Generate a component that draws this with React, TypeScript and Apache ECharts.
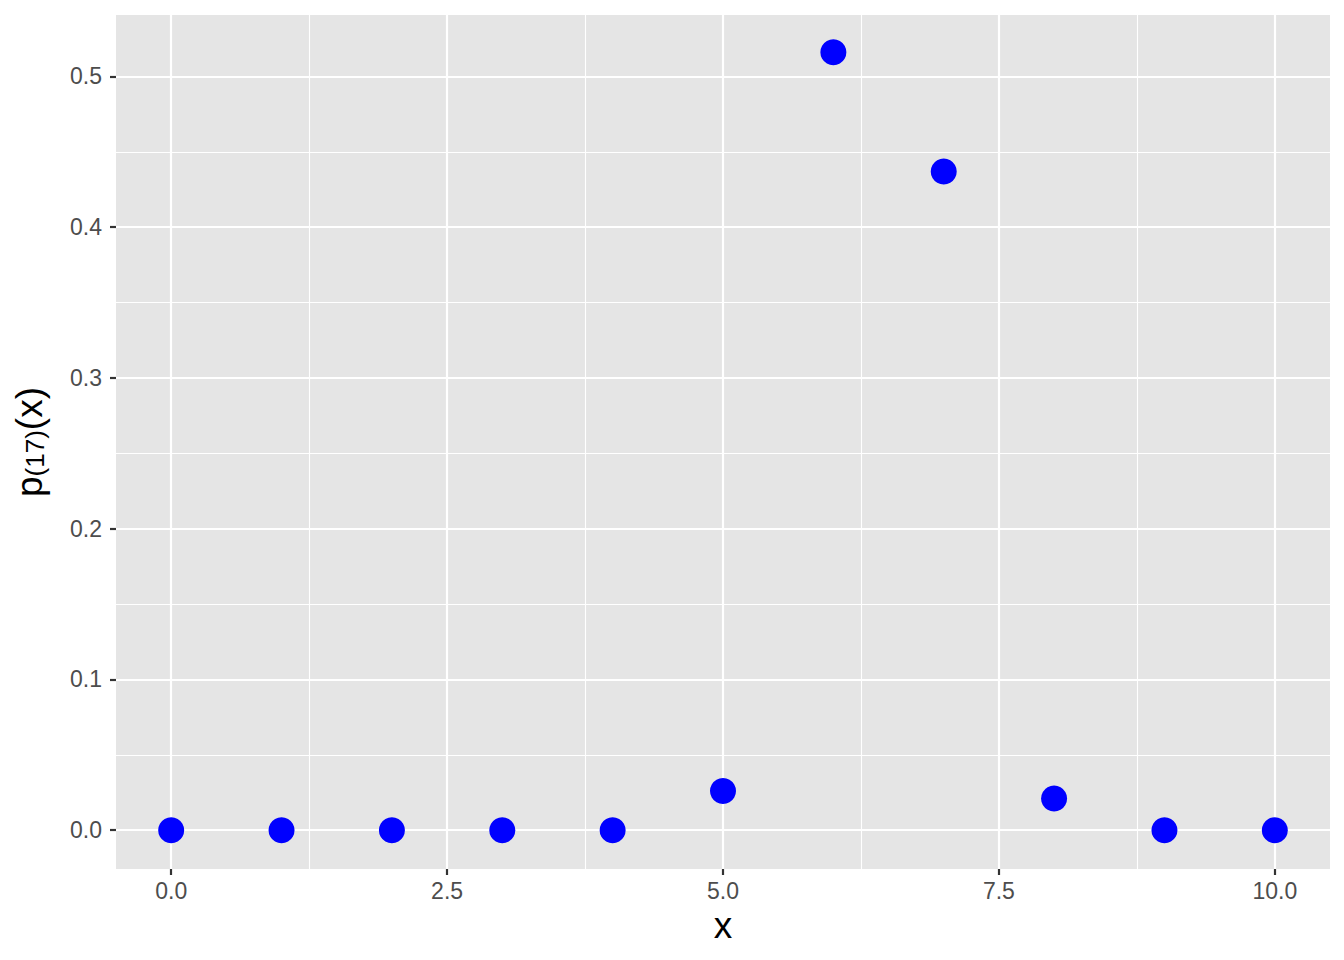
import { useEffect, useRef } from "react";
import * as echarts from "echarts";

const xs = [0, 1, 2, 3, 4, 5, 6, 7, 8, 9, 10];
const probs = [0, 0, 0, 0, 0, 0.026, 0.516, 0.437, 0.021, 0, 0];
const xBreaks = [0, 2.5, 5, 7.5, 10];
const xMinor = [1.25, 3.75, 6.25, 8.75];
const yBreaks = [0, 0.1, 0.2, 0.3, 0.4, 0.5];
const yMinor = [0.05, 0.15, 0.25, 0.35, 0.45];

const FONT = "Liberation Sans, Arial, Helvetica, sans-serif";

export default function App() {
  const elRef = useRef<HTMLDivElement>(null);

  useEffect(() => {
    if (!elRef.current) return;
    const chart = echarts.init(elRef.current, undefined, { renderer: "svg" });

    const major = { color: "#FFFFFF", width: 2.2, type: "solid" as const };
    const minor = { color: "#FFFFFF", width: 1.1, type: "solid" as const };
    const gridLines = [
      ...xMinor.map((v) => ({ xAxis: v, lineStyle: minor })),
      ...yMinor.map((v) => ({ yAxis: v, lineStyle: minor })),
      ...xBreaks.map((v) => ({ xAxis: v, lineStyle: major })),
      ...yBreaks.map((v) => ({ yAxis: v, lineStyle: major })),
    ];
    const tick = { show: true, inside: false, length: 6, lineStyle: { color: "#333333", width: 2.2 } };

    chart.setOption({
      animation: false,
      backgroundColor: "#FFFFFF",
      textStyle: { fontFamily: FONT },
      grid: {
        left: 116, right: 14, top: 15, bottom: 91,
        show: true, backgroundColor: "#E5E5E5", borderWidth: 0,
      },
      xAxis: {
        type: "value", min: -0.5, max: 10.5,
        name: "x", nameLocation: "middle", nameGap: 38,
        nameTextStyle: { color: "#000000", fontSize: 37, fontFamily: FONT },
        axisLine: { show: false, onZero: false },
        axisTick: { ...tick, customValues: xBreaks },
        axisLabel: {
          customValues: xBreaks, color: "#4D4D4D", fontSize: 23, margin: 10,
          formatter: (v: number) => v.toFixed(1),
        },
        splitLine: { show: false },
      },
      yAxis: {
        type: "value", min: -0.02575, max: 0.54075,
        name: "{a|p}{b|(17)}{a|(x)}", nameLocation: "middle", nameGap: 68, nameRotate: 90,
        nameTextStyle: {
          color: "#000000", fontFamily: FONT,
          rich: {
            a: { fontSize: 37, color: "#000000", fontFamily: FONT },
            b: { fontSize: 26, color: "#000000", fontFamily: FONT, padding: [12, 0, 0, 0] },
          },
        },
        axisLine: { show: false, onZero: false },
        axisTick: { ...tick, customValues: yBreaks },
        axisLabel: {
          customValues: yBreaks, color: "#4D4D4D", fontSize: 23, margin: 14,
          formatter: (v: number) => v.toFixed(1),
        },
        splitLine: { show: false },
      },
      series: [
        {
          type: "scatter", z: 1, data: [], silent: true,
          markLine: { silent: true, symbol: ["none", "none"], label: { show: false }, data: gridLines },
        },
        {
          type: "scatter", z: 5, symbolSize: 26,
          itemStyle: { color: "#0000FF", opacity: 1 },
          data: xs.map((x, i) => [x, probs[i]]),
        },
      ],
    });

    return () => chart.dispose();
  }, []);

  return <div ref={elRef} style={{ position: "absolute", left: 0, top: 0, width: 1344, height: 960 }} />;
}
